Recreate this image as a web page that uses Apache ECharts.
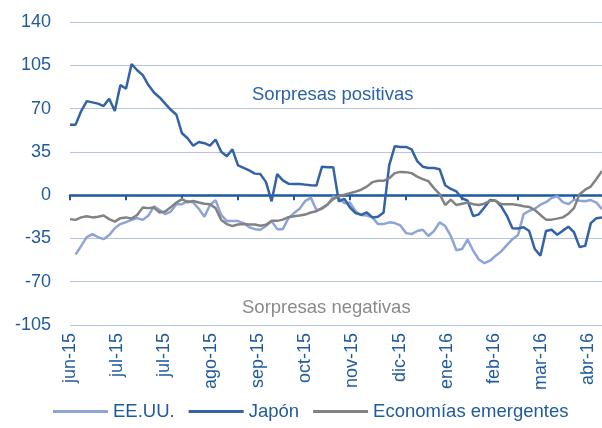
<!DOCTYPE html>
<html>
<head>
    <meta charset="utf-8">
    <title>Sorpresas</title>
    <script src="https://cdn.jsdelivr.net/npm/echarts@6/dist/echarts.min.js"></script>
    <style>
        html, body { margin: 0; padding: 0; background: #fff; }
        #chart { width: 602px; height: 428px; }
    </style>
</head>
<body>
    <div id="chart"></div>
    <script type="text/javascript">
        // etiquetas de meses (eje inferior)
        var monthLabels = ['jun-15', 'jul-15', 'jul-15', 'ago-15', 'sep-15', 'oct-15',
                           'nov-15', 'dic-15', 'ene-16', 'feb-16', 'mar-16', 'abr-16'];
        var yTicks = [-105, -70, -35, 0, 35, 70, 105, 140];

        // series (96 puntos)
        var eeuu = [null, -48, -41, -34, -31.5, -34, -35.6, -32.3, -26.7, -23.4,
                    -21.8, -20, -18.6, -20, -16.5, -9, -12, -15.4, -13.3, -7.3,
                    -7.3, -4.8, -6, -11, -17.4, -8, -4, -16, -21, -21,
                    -21, -22.6, -26, -27.5, -28, -25, -21, -27.5, -27.5, -18.6,
                    -14.5, -11, -4.8, -2, -12, -11, -8, -1, -2.5, -6.5,
                    -6, -13, -16, -16.5, -18, -23.4, -23.4, -22, -22.6, -24.5,
                    -30.7, -31.5, -29, -28, -33, -29, -22, -25, -33, -44.5,
                    -43.6, -36, -45, -52, -55, -53, -49, -45.5, -40.4, -35.6,
                    -32.3, -15.4, -12.7, -11, -7.7, -5.7, -2.4, -0.8, -5.7, -7.3,
                    -3.6, -4.5, -5, -4, -6, -11.3];

        var japon = [57, 57, 68, 76, 75, 74, 72, 78, 68, 89,
                     86, 106, 101, 97, 89, 83, 79, 74, 69, 65,
                     50, 46, 40, 43, 42, 40, 45, 35, 31.5, 37,
                     24, 22, 20, 17.4, 17, 10.5, -5, 17, 12, 9.3,
                     9, 9, 8.5, 8, 7.7, 23, 22.6, 22.6, -5, -3,
                     -10, -14.5, -16, -14, -18, -17.5, -14, 24, 39.6, 39,
                     39, 37, 27.5, 23, 22, 22, 21, 8, 5, 3,
                     -2.5, -4.5, -17, -15.5, -10, -4, -4.5, -9, -16.5, -26.7,
                     -27, -26, -29, -43.6, -49, -29, -28, -32, -28.7, -25.5,
                     -30, -42, -41, -22.6, -18.6, -18];

        var emergentes = [-19.4, -20, -18, -17, -18, -17.5, -16.5, -19.4, -21.4, -18.6,
                          -18, -19, -16, -10, -10.5, -10, -14, -13.3, -9.7, -6,
                          -3.2, -5.7, -4.8, -6, -6.9, -7.3, -10.5, -20, -23.4, -25,
                          -23.8, -23.4, -23.8, -23.8, -24.8, -24, -20.8, -20.8, -19.8, -17.8,
                          -17, -16.5, -15.7, -14, -13, -10.5, -7.3, -3.2, -0.8, 0.4,
                          1.6, 2.8, 4.4, 6.9, 10.5, 11.6, 11.6, 13.7, 17.8, 18.8,
                          18.6, 17.8, 15, 13, 11.3, 5.7, 0.8, -8, -3.6, -8,
                          -6.9, -6, -7.3, -8, -6.9, -4.6, -4.6, -7.3, -7.3, -7.3,
                          -8, -9, -9.5, -12, -16, -19.8, -19.8, -19, -18, -15,
                          -10.5, 0.8, 4.4, 6.9, 13, 19.6];

        var names = ['EE.UU.', 'Japón', 'Economías emergentes'];
        var colors = ['#8fa4d6', '#3363a6', '#828282'];

        var idx = [];
        for (var i = 0; i < japon.length; i++) {
            idx.push(i);
        }

        var font = 'Liberation Sans, Arial, sans-serif';
        var axisBlue = '#1f5b9c';

        var myChart = echarts.init(document.getElementById('chart'));

        var option = {
            animation: false,
            backgroundColor: '#ffffff',
            textStyle: { fontFamily: font },
            grid: {
                left: 70,
                right: 0,
                top: 22,
                bottom: 103,
                containLabel: false
            },
            legend: {
                bottom: 2,
                left: 48,
                data: names,
                icon: 'rect',
                itemWidth: 55,
                itemHeight: 3,
                itemGap: 14,
                textStyle: { color: axisBlue, fontSize: 18.5, fontFamily: font }
            },
            xAxis: [
                {
                    type: 'category',
                    data: idx,
                    boundaryGap: false,
                    position: 'bottom',
                    axisLine: { onZero: true, lineStyle: { color: '#1b5aa0', width: 2.5 } },
                    axisTick: { show: true, interval: 9, length: 5, lineStyle: { color: '#1b5aa0', width: 2 } },
                    axisLabel: { show: false },
                    splitLine: { show: false }
                },
                {
                    type: 'value',
                    position: 'bottom',
                    min: 0,
                    max: 11.3,
                    interval: 1,
                    axisLine: { show: false, onZero: false },
                    axisTick: { show: false },
                    splitLine: { show: false },
                    axisLabel: {
                        rotate: 90,
                        margin: 8,
                        color: axisBlue,
                        fontSize: 18,
                        fontFamily: font,
                        showMaxLabel: false,
                        formatter: function (v) {
                            return monthLabels[v] || '';
                        }
                    }
                }
            ],
            yAxis: {
                type: 'value',
                min: yTicks[0],
                max: yTicks[yTicks.length - 1],
                interval: 35,
                axisLine: { show: false },
                axisTick: { show: false },
                axisLabel: { color: axisBlue, fontSize: 18, fontFamily: font, margin: 19 },
                splitLine: { lineStyle: { color: '#b7c3e5', width: 1 } }
            },
            graphic: [
                {
                    type: 'text',
                    left: 252,
                    top: 85,
                    style: { text: 'Sorpresas positivas', fill: '#2c62a8', font: '18.5px ' + font }
                },
                {
                    type: 'text',
                    left: 242,
                    top: 298,
                    style: { text: 'Sorpresas negativas', fill: '#8a8a8a', font: '18.5px ' + font }
                }
            ],
            series: [
                {
                    name: names[0],
                    type: 'line',
                    data: eeuu,
                    symbol: 'none',
                    lineStyle: { color: colors[0], width: 2.5 },
                    itemStyle: { color: colors[0] }
                },
                {
                    name: names[1],
                    type: 'line',
                    data: japon,
                    symbol: 'none',
                    lineStyle: { color: colors[1], width: 2.5 },
                    itemStyle: { color: colors[1] }
                },
                {
                    name: names[2],
                    type: 'line',
                    data: emergentes,
                    symbol: 'none',
                    lineStyle: { color: colors[2], width: 2.5 },
                    itemStyle: { color: colors[2] }
                }
            ]
        };

        myChart.setOption(option);
    </script>
</body>
</html>
